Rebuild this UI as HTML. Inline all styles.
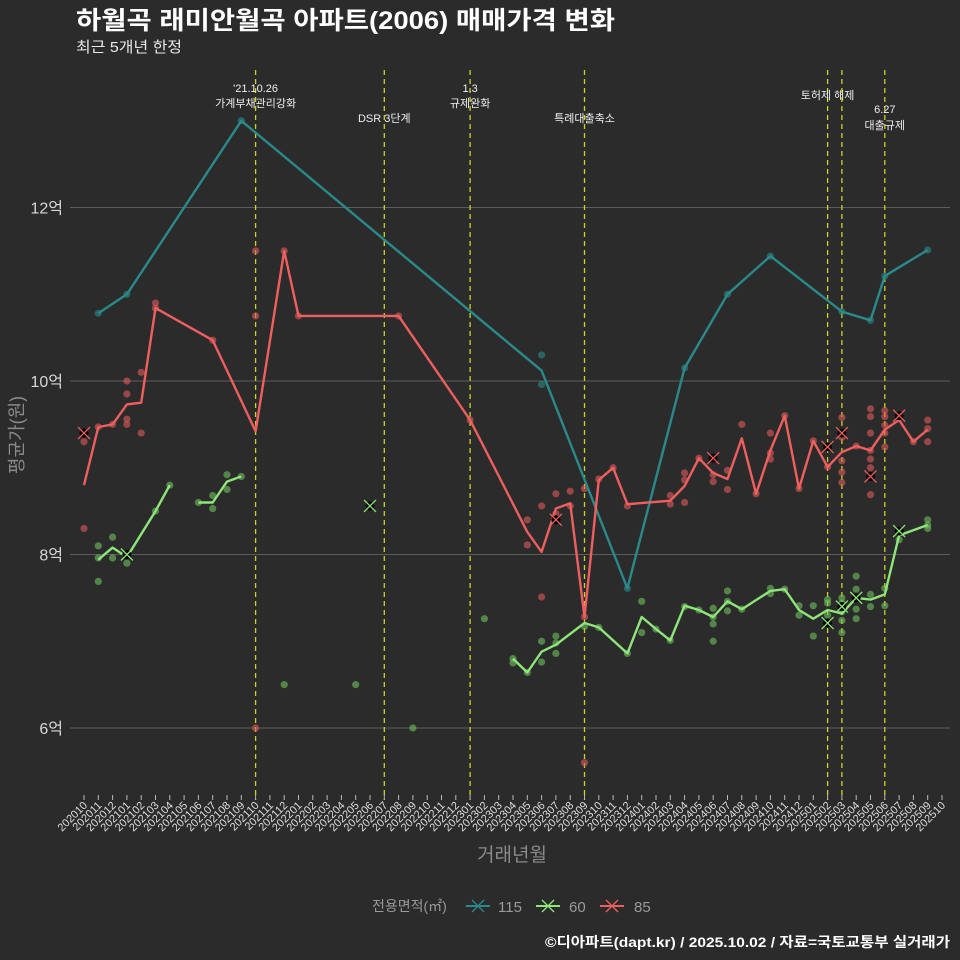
<!DOCTYPE html>
<html><head><meta charset="utf-8">
<style>
html,body{margin:0;padding:0;background:#2b2b2b;}
svg{display:block;font-family:"Liberation Sans","Noto Sans CJK KR",sans-serif;}
</style></head>
<body>
<svg id="chart" width="960" height="960" viewBox="0 0 960 960">
<rect x="0" y="0" width="960" height="960" fill="#2b2b2b"/>
<text x="76" y="29" fill="#ffffff" font-size="25" font-weight="bold" textLength="539" lengthAdjust="spacingAndGlyphs">하월곡 래미안월곡 아파트(2006) 매매가격 변화</text>
<text x="76" y="52" fill="#e8e8e8" font-size="15" textLength="106" lengthAdjust="spacingAndGlyphs">최근 5개년 한정</text>
<g id="grid"></g>
<g id="events"></g>
<g id="marks"></g>
<g id="xaxis"></g>
<text x="0" y="0" transform="translate(23,435) rotate(-90)" text-anchor="middle" fill="#8a8a8a" font-size="18">평균가(원)</text>
<text x="512" y="861" text-anchor="middle" fill="#8a8a8a" font-size="19">거래년월</text>
<g>
<text x="372" y="911" fill="#9a9a9a" font-size="14">전용면적(㎡)</text>
<g><line x1="466" y1="906" x2="490" y2="906" stroke="#2a8a8a" stroke-width="2"/><path d="M472 900 L484 912 M484 900 L472 912" stroke="#2a8a8a" stroke-width="1.3"/><text x="498" y="912" fill="#9a9a9a" font-size="15">115</text></g>
<g><line x1="536" y1="906" x2="560" y2="906" stroke="#8ee57a" stroke-width="2"/><path d="M542 900 L554 912 M554 900 L542 912" stroke="#8ee57a" stroke-width="1.3"/><text x="569" y="912" fill="#9a9a9a" font-size="15">60</text></g>
<g><line x1="600" y1="906" x2="624" y2="906" stroke="#ef5f5f" stroke-width="2"/><path d="M606 900 L618 912 M618 900 L606 912" stroke="#ef5f5f" stroke-width="1.3"/><text x="634" y="912" fill="#9a9a9a" font-size="15">85</text></g>
</g>
<text x="950" y="947" text-anchor="end" fill="#ffffff" font-size="14" font-weight="bold" textLength="405" lengthAdjust="spacingAndGlyphs">©디아파트(dapt.kr) / 2025.10.02 / 자료=국토교통부 실거래가</text>
</svg>
<script>
// ---- data ----
const months = [];
for (let y = 2020, m = 10; months.length < 61; ) { months.push(y + (m < 10 ? '0' : '') + m); m++; if (m > 12) { m = 1; y++; } }
const yTicks = [6, 8, 10, 12];
const yTickLabels = ['6억', '8억', '10억', '12억'];
// line series: [monthIndex, value(억)]
const line115 = [[1,10.78],[3,11.0],[11,13.0],[32,10.12],[38,7.61],[42,10.15],[45,11.0],[48,11.44],[53,10.8],[55,10.7],[56,11.21],[59,11.51]];
const line85a = [[0,8.8],[1,9.47],[2,9.5],[3,9.73],[4,9.75],[5,10.84],[9,10.47],[12,9.42],[14,11.5],[15,10.75],[22,10.75],[27,9.55],[31,8.26],[32,8.03],[33,8.53],[34,8.59],[35,7.28],[36,8.86],[37,9.0],[38,8.58],[41,8.62],[42,8.79],[43,9.11],[44,8.94],[45,8.87],[46,9.34],[47,8.7],[48,9.2],[49,9.6],[50,8.76],[51,9.31],[52,9.01],[53,9.18],[54,9.25],[55,9.2],[56,9.44],[57,9.55],[58,9.3],[59,9.44]];
const line60a = [[1,7.94],[2,8.08],[3,7.97],[5,8.5],[6,8.8]];
const line60b = [[8,8.6],[9,8.6],[10,8.84],[11,8.9]];
const line60c = [[30,6.8],[31,6.64],[32,6.88],[33,6.96],[35,7.21],[36,7.16],[38,6.86],[39,7.28],[40,7.14],[41,7.01],[42,7.41],[43,7.36],[44,7.28],[45,7.46],[46,7.37],[48,7.58],[49,7.6],[50,7.36],[51,7.26],[52,7.36],[53,7.32],[54,7.5],[55,7.48],[56,7.54],[57,8.22],[59,8.34]];
// scatter (individual trades)
const dots115 = [[1,10.78],[3,11.0],[11,13.0],[32,10.3],[32,9.96],[38,7.61],[42,10.15],[45,11.0],[48,11.44],[53,10.8],[55,10.7],[56,11.21],[59,11.51]];
const dots85 = [[0,9.3],[0,8.3],[1,9.47],[2,9.5],[3,10.0],[3,9.85],[3,9.56],[3,9.5],[4,10.1],[4,9.4],[5,10.9],[5,10.84],[9,10.47],[12,11.5],[12,10.75],[12,6.0],[14,11.5],[15,10.75],[22,10.75],[27,9.55],
[31,8.4],[31,8.11],[32,8.56],[32,7.51],[33,8.7],[33,8.47],[34,8.73],[34,8.56],[35,8.76],[35,7.28],[35,5.6],[36,8.87],[37,9.0],[38,8.56],[41,8.68],[41,8.58],[42,8.94],[42,8.86],[42,8.6],[43,9.11],[44,9.11],[44,8.92],[44,8.84],[45,8.97],[45,8.75],[46,9.5],[47,8.7],[48,9.4],[48,9.17],[48,9.1],[49,9.6],[50,8.76],[51,9.31],[52,9.24],[52,9.01],[53,9.58],[53,9.35],[53,9.08],[53,8.95],[53,8.83],[54,9.25],[55,9.68],[55,9.59],[55,9.4],[55,9.2],[55,9.1],[55,9.0],[55,8.9],[55,8.69],[56,9.66],[56,9.59],[56,9.49],[56,9.4],[56,9.24],[57,9.6],[58,9.3],[59,9.55],[59,9.45],[59,9.3]];
const dots60 = [[1,8.1],[1,7.96],[1,7.69],[2,8.2],[2,7.96],[3,7.9],[5,8.5],[6,8.8],[8,8.6],[9,8.68],[9,8.53],[10,8.92],[10,8.75],[11,8.9],[14,6.5],[19,6.5],[23,6.0],[28,7.26],
[30,6.8],[30,6.75],[31,6.64],[32,7.0],[32,6.76],[33,7.06],[33,6.98],[33,6.86],[35,7.17],[36,7.16],[38,6.86],[39,7.46],[39,7.1],[40,7.14],[41,7.01],[42,7.4],[43,7.36],[44,7.38],[44,7.28],[44,7.2],[44,7.0],[45,7.58],[45,7.46],[45,7.35],[46,7.37],[48,7.61],[48,7.55],[49,7.6],[50,7.41],[50,7.3],[51,7.41],[51,7.06],[52,7.48],[52,7.44],[52,7.3],[52,7.21],[53,7.5],[53,7.44],[53,7.34],[53,7.24],[53,7.1],[54,7.75],[54,7.6],[54,7.49],[54,7.37],[54,7.26],[55,7.54],[55,7.4],[56,7.61],[56,7.41],[57,8.17],[59,8.4],[59,8.34],[59,8.3]];
const cross85 = [[0,9.4],[33,8.4],[44,9.11],[52,9.24],[53,9.4],[55,8.9],[57,9.6]];
const cross60 = [[3,8.0],[20,8.56],[52,7.21],[53,7.4],[54,7.5],[57,8.27]];
const eventMonths = [12, 21, 27, 35, 52, 53, 56];
const eventLabels = [["'21.10.26","가계부채관리강화"],["DSR 3단계"],["1.3","규제완화"],["특례대출축소"],["토허제 해제"],[],["6.27","대출규제"]];
const eventLabelY = [[92,107],[122],[92,107],[122],[99],[],[113,129]];

// ---- axes ----
const xPos = i => 84 + i * 14.3;
const yPos = v => 381 - (v - 10) * 86.75;
const NS = 'http://www.w3.org/2000/svg';
function mk(tag, attrs, parent) { const e = document.createElementNS(NS, tag); for (const k in attrs) e.setAttribute(k, attrs[k]); parent.appendChild(e); return e; }
const grid = document.getElementById('grid'), ev = document.getElementById('events'), marks = document.getElementById('marks'), xa = document.getElementById('xaxis');

yTicks.forEach((t, k) => {
  const l = mk('line', {x1: 70, x2: 950, y1: yPos(t), y2: yPos(t), stroke: '#5c5c5c', 'stroke-width': 1}, grid);
  
  
  const tx = mk('text', {x: 63, y: yPos(t) + 6, 'text-anchor': 'end', fill: '#d8d8d8', 'font-size': 16}, grid);
  tx.textContent = yTickLabels[k];
  
  
});
months.forEach((m, i) => {
  const x = xPos(i);
  const tk = mk('line', {x1: x, x2: x, y1: 795, y2: 800, stroke: '#bbbbbb', 'stroke-width': 1}, xa);
  
  
  const tx = mk('text', {x: 0, y: 0, transform: `translate(${x + 4},${806}) rotate(-45)`, 'text-anchor': 'end', fill: '#dddddd', 'font-size': 11}, xa);
  tx.textContent = m;
  
  
});
eventMonths.forEach((mi, k) => {
  const x = xPos(mi);
  const l = mk('line', {x1: x, x2: x, y1: 70, y2: 800, stroke: '#c8d41e', 'stroke-width': 1.3, 'stroke-dasharray': '5,4'}, ev);
  
  
  eventLabels[k].forEach((s, j) => {
    const tx = mk('text', {x: x, y: eventLabelY[k][j], 'text-anchor': 'middle', fill: '#eeeeee', 'font-size': 11}, ev);
    tx.textContent = s;
    
    
  });
});

function dots(arr, color, name) {
  arr.forEach(p => {
    const c = mk('circle', {cx: xPos(p[0]), cy: yPos(p[1]), r: 3.6, fill: color, 'fill-opacity': 0.6}, marks);
    
    
  });
}
function line(arr, color, name) {
  const d = arr.map((p, k) => (k ? 'L' : 'M') + xPos(p[0]).toFixed(1) + ' ' + yPos(p[1]).toFixed(1)).join(' ');
  const l = mk('path', {d: d, fill: 'none', stroke: color, 'stroke-width': 2.4, 'stroke-linejoin': 'round'}, marks);
  
  
}
function crosses(arr, color, name) {
  arr.forEach(p => {
    const x = xPos(p[0]), y = yPos(p[1]);
    const c = mk('circle', {cx: x, cy: y, r: 4.5, fill: '#000000'}, marks);
    
    
    const g = mk('path', {d: `M${x-6} ${y-6} L${x+6} ${y+6} M${x+6} ${y-6} L${x-6} ${y+6}`, stroke: color, 'stroke-width': 1.3}, marks);
    
    
  });
}
dots(dots115, '#2a8a8a', 'trade-point-115');
dots(dots85, '#e05a5a', 'trade-point-85');
dots(dots60, '#6fbf5f', 'trade-point-60');
line(line115, '#2a8a8a', 'line-115');
line(line85a, '#ef5f5f', 'line-85');
line(line60a, '#8ee57a', 'line-60');
line(line60b, '#8ee57a', 'line-60');
line(line60c, '#8ee57a', 'line-60');
crosses(cross85, '#ef5f5f', 'cross-85');
crosses(cross60, '#8ee57a', 'cross-60');
</script>
</body></html>
